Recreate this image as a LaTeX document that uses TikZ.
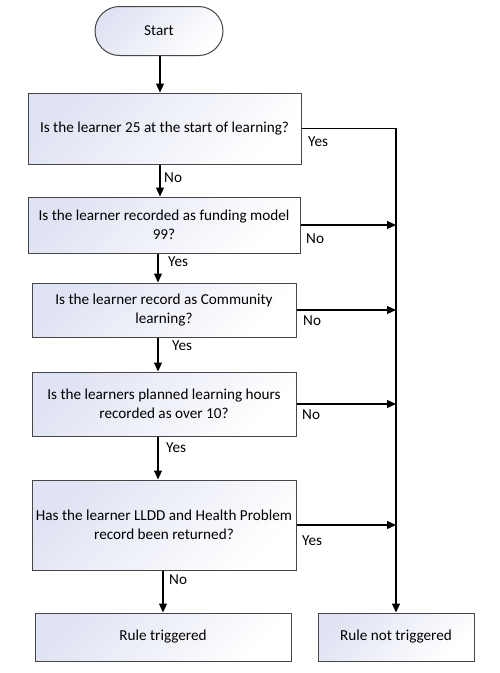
\documentclass[tikz,border=0pt]{standalone}
\usepackage{fontspec}
\setmainfont{Carlito}
\usetikzlibrary{arrows.meta,shapes.misc}
\definecolor{lav}{RGB}{224,227,243}
\definecolor{edge}{RGB}{70,70,70}
\tikzset{
  box/.style={draw=edge, line width=1pt, top color=lav, bottom color=white, shading angle=45,
    align=center, inner sep=2pt, font=\fontsize{15.2pt}{18.5pt}\selectfont},
  startbox/.style={box, rounded rectangle},
  conn/.style={line width=1.1pt, -{Triangle[length=9pt,width=8pt]}},
  plain/.style={line width=1.1pt},
  lbl/.style={anchor=west, inner sep=0pt, font=\fontsize{15.2pt}{18pt}\selectfont}
}
\begin{document}
\begin{tikzpicture}[x=1pt,y=-1pt]
\useasboundingbox (0,0) rectangle (499,673);
\fill[white] (0,0) rectangle (499,673);
\node[startbox, minimum width=132pt, minimum height=49pt] (start) at (159,31) {Start};
\node[box, minimum width=273pt, minimum height=71pt] (b1) at (164.5,128.5) {Is the learner 25 at the start of learning?};
\node[box, minimum width=272pt, minimum height=56pt] (b2) at (164,225) {Is the learner recorded as funding model\\99?};
\node[box, minimum width=264pt, minimum height=54pt] (b3) at (164,310) {Is the learner record as Community\\learning?};
\node[box, minimum width=264pt, minimum height=64pt] (b4) at (164,404) {Is the learners planned learning hours\\recorded as over 10?};
\node[box, minimum width=264pt, minimum height=90pt] (b5) at (164,525) {Has the learner LLDD and Health Problem\\record been returned?};
\node[box, minimum width=256pt, minimum height=48pt] (rt) at (163,637) {Rule triggered};
\node[box, minimum width=156pt, minimum height=48pt] (rnt) at (396,637) {Rule not triggered};
\coordinate (cx) at (160,0);
\coordinate (cy) at (158,0);
\coordinate (cz) at (163,0);
\coordinate (tr) at (396,0);
% vertical flow
\draw[conn] (start.south -| cx) -- (b1.north -| cx);
\draw[conn] (b1.south -| cx) -- (b2.north -| cx);
\draw[conn] (b2.south -| cy) -- (b3.north -| cy);
\draw[conn] (b3.south -| cy) -- (b4.north -| cy);
\draw[conn] (b4.south -| cy) -- (b5.north -| cy);
\draw[conn] (b5.south -| cz) -- (rt.north -| cz);
% right trunk
\draw[conn] (b1.east) -- (b1.east -| tr) -- (rnt.north);
\draw[conn] (b2.east) -- (b2.east -| tr);
\draw[conn] (b3.east) -- (b3.east -| tr);
\draw[conn] (b4.east) -- (b4.east -| tr);
\draw[conn] (b5.east) -- (b5.east -| tr);
% labels
\node[lbl] (l1) at (164,178) {No};
\node[lbl] (l2) at (168,262) {Yes};
\node[lbl] (l3) at (172,346) {Yes};
\node[lbl] (l4) at (166,448) {Yes};
\node[lbl] (l5) at (169,580) {No};
\node[lbl] (r1) at (308,142) {Yes};
\node[lbl] (r2) at (306,239) {No};
\node[lbl] (r3) at (303,321) {No};
\node[lbl] (r4) at (302,415) {No};
\node[lbl] (r5) at (302,541) {Yes};
\end{tikzpicture}
\end{document}
